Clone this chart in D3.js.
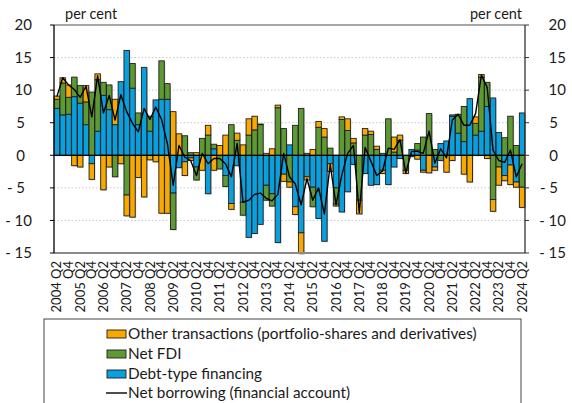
<!DOCTYPE html>
<html><head><meta charset="utf-8">
<script src="https://cdn.jsdelivr.net/npm/d3@7"></script>
<style>
body{margin:0;background:#fff}
svg{display:block}
text{font-family:Lato,"Open Sans",sans-serif;fill:#1a1a1a}
</style>
</head><body>
<svg id="chart" width="572" height="403"></svg>
<script>
const categories = ["2004 Q2","2004 Q3","2004 Q4","2005 Q1","2005 Q2","2005 Q3","2005 Q4","2006 Q1","2006 Q2","2006 Q3","2006 Q4","2007 Q1","2007 Q2","2007 Q3","2007 Q4","2008 Q1","2008 Q2","2008 Q3","2008 Q4","2009 Q1","2009 Q2","2009 Q3","2009 Q4","2010 Q1","2010 Q2","2010 Q3","2010 Q4","2011 Q1","2011 Q2","2011 Q3","2011 Q4","2012 Q1","2012 Q2","2012 Q3","2012 Q4","2013 Q1","2013 Q2","2013 Q3","2013 Q4","2014 Q1","2014 Q2","2014 Q3","2014 Q4","2015 Q1","2015 Q2","2015 Q3","2015 Q4","2016 Q1","2016 Q2","2016 Q3","2016 Q4","2017 Q1","2017 Q2","2017 Q3","2017 Q4","2018 Q1","2018 Q2","2018 Q3","2018 Q4","2019 Q1","2019 Q2","2019 Q3","2019 Q4","2020 Q1","2020 Q2","2020 Q3","2020 Q4","2021 Q1","2021 Q2","2021 Q3","2021 Q4","2022 Q1","2022 Q2","2022 Q3","2022 Q4","2023 Q1","2023 Q2","2023 Q3","2023 Q4","2024 Q1","2024 Q2"];

const debtFinancing = [7.2,6.2,6.3,9.0,8.0,4.7,-1.3,3.7,9.2,7.0, 4.7,11.3,16.1,10.3,4.7,13.5,3.7,8.5,8.6,8.6, -5.8,-1.9,-1.0,-0.4,-1.8,0.0,-5.9,1.0,0.0,-3.1, -7.4,-1.6,-7.2,-12.6,-12.0,-10.6,-4.6,-5.9,-13.4,-2.9, 1.6,-7.9,-11.9,-3.3,-4.9,-9.7,-13.2,-1.3,-5.0,-8.7, -5.6,-1.4,0.0,-2.8,-4.6,-4.5,-2.3,-4.5,-1.8,-0.5, 0.0,0.9,0.8,-2.3,0.0,-1.8,1.8,2.2,6.0,3.4, 2.1,8.7,3.1,3.7,7.5,8.8,3.5,-3.1,-1.5,-4.1,6.5];

const netFDI = [1.4,4.9,2.6,3.0,2.7,3.5,9.7,7.9,2.0,3.8, -3.3,0.0,-6.1,3.8,1.8,0.0,2.3,0.0,5.9,2.4, -5.6,0.0,3.0,0.4,-2.0,2.6,3.1,0.7,-2.1,-1.7, 4.7,2.3,-2.0,3.1,3.9,4.7,-2.3,-1.9,7.3,4.1, -4.1,4.6,7.2,0.3,-3.0,4.3,2.8,1.1,-2.5,5.5, 3.8,1.9,-6.9,3.1,3.2,0.9,0.3,5.6,0.5,2.3, -2.3,0.0,1.0,2.8,6.4,0.9,-0.8,0.0,0.2,2.9, 5.4,0.0,1.8,8.3,3.7,-6.8,-1.8,2.7,6.0,1.5,-4.9];

const otherTransactions = [0.5,0.8,1.9,-1.6,-1.8,2.5,-2.4,0.9,-5.3,-1.8, 3.9,-1.3,-3.2,-9.5,-3.4,-6.4,-0.7,-1.0,-8.9,-8.9, 6.7,3.3,-2.1,-0.4,0.4,-2.3,1.5,-2.3,1.5,3.1, -0.9,1.1,1.6,2.5,2.1,0.1,0.3,1.0,0.4,-1.1, -0.8,-1.2,-3.2,-0.5,0.9,0.9,1.3,-1.2,-0.3,0.4, 1.8,0.7,-2.1,1.0,0.5,0.5,-0.5,0.0,2.3,0.8, -0.5,-0.2,-0.6,-0.3,-2.7,-0.5,0.0,-2.6,-0.8,0.0, -2.9,-4.1,1.0,0.4,-0.5,-1.8,-2.8,-0.8,-3.0,-0.8,-3.1];

const netBorrowing = [9.0,11.9,10.8,10.1,8.9,10.6,5.9,12.2,6.5,9.2, 5.4,9.3,6.7,4.9,3.6,7.2,5.5,7.4,5.5,1.8, -4.6,1.5,-0.3,-0.8,-3.1,0.3,-1.3,-0.5,-0.5,-1.3, -3.3,1.8,-7.2,-6.9,-6.0,-5.8,-6.6,-7.0,-6.0,0.3, -3.3,-4.4,-7.6,-3.6,-6.9,-5.0,-9.0,-1.4,-7.6,-3.0, 0.3,1.5,-8.8,1.2,-0.9,-3.1,-2.4,1.1,0.9,2.4, -2.7,0.6,0.6,0.3,3.7,-1.2,1.0,-0.4,5.4,6.3, 4.6,4.6,6.4,12.3,10.4,0.8,-0.8,-1.1,0.8,-3.3,-1.3];

const yTicks = [-15,-10,-5,0,5,10,15,20];
const unitLabel = "per cent";
const legendLabels = ["Other transactions (portfolio-shares and derivatives)","Net FDI","Debt-type financing","Net borrowing (financial account)"];

const colors = {debt:"#0A9FDD", fdi:"#5E9A34", other:"#F8A900"};

const svg = d3.select("#chart");
const L = 54, R = 525, T = 25, B = 253;

const x = d3.scaleBand().domain(categories).range([L, R]).paddingInner(0.06).paddingOuter(0.03);
const y = d3.scaleLinear().domain([-15, 20]).range([B, T]);

const rows = categories.map((c, i) => ({cat: c, debt: debtFinancing[i], fdi: netFDI[i], other: otherTransactions[i]}));
const series = d3.stack().keys(["debt","fdi","other"]).offset(d3.stackOffsetDiverging)(rows);

svg.append("g").selectAll("line").data(yTicks.filter(v => v !== 0 && v !== 20 && v !== -15)).join("line")
  .attr("x1", L).attr("x2", R).attr("y1", d => y(d)).attr("y2", d => y(d))
  .attr("stroke", "#c8c8c8").attr("stroke-width", 1).attr("stroke-dasharray", "1.5,2");

const gShadow = svg.append("g");
const gBars = svg.append("g");
series.forEach(s => {
  gShadow.selectAll(null).data(s).join("rect")
    .attr("x", d => x(d.data.cat) + 1)
    .attr("y", d => Math.min(y(d[0]), y(d[1])) + 1)
    .attr("width", x.bandwidth())
    .attr("height", d => Math.abs(y(d[0]) - y(d[1])))
    .attr("fill", "#999").attr("opacity", 0.45);
});
series.forEach(s => {
  gBars.selectAll(null).data(s).join("rect")
    .attr("x", d => x(d.data.cat))
    .attr("y", d => Math.min(y(d[0]), y(d[1])))
    .attr("width", x.bandwidth())
    .attr("height", d => Math.abs(y(d[0]) - y(d[1])))
    .attr("fill", colors[s.key])
    .attr("stroke", "#1e1e1e").attr("stroke-width", 0.9);
});

svg.append("line").attr("x1", L).attr("x2", R).attr("y1", y(0)).attr("y2", y(0))
  .attr("stroke", "#000").attr("stroke-width", 1.2);

const line = d3.line().x((d, i) => x(categories[i]) + x.bandwidth() / 2).y(d => y(d));
svg.append("path").datum(netBorrowing).attr("d", line)
  .attr("fill", "none").attr("stroke", "#000").attr("stroke-width", 1.4).attr("stroke-linejoin", "round");

svg.append("line").attr("x1", L).attr("x2", R).attr("y1", T).attr("y2", T).attr("stroke", "#8a8a8a").attr("stroke-width", 1.5);
svg.append("line").attr("x1", L).attr("x2", R).attr("y1", B).attr("y2", B).attr("stroke", "#8a8a8a").attr("stroke-width", 2);
svg.append("line").attr("x1", L).attr("x2", L).attr("y1", T).attr("y2", B).attr("stroke", "#000").attr("stroke-width", 1.3);
svg.append("line").attr("x1", R).attr("x2", R).attr("y1", T).attr("y2", B).attr("stroke", "#333").attr("stroke-width", 1.3);

const fmt = v => v < 0 ? "- " + Math.abs(v) : String(v);
yTicks.forEach(v => {
  const yy = y(v);
  svg.append("line").attr("x1", L - 4).attr("x2", L).attr("y1", yy).attr("y2", yy).attr("stroke", "#000");
  svg.append("line").attr("x1", R).attr("x2", R + 4).attr("y1", yy).attr("y2", yy).attr("stroke", "#333");
  const digits = String(Math.abs(v)).length;
  svg.append("text").attr("x", digits === 1 ? 25 : 32).attr("y", yy).attr("dy", "0.35em")
    .attr("text-anchor", "end").attr("font-size", 15).text(fmt(v));
  svg.append("text").attr("x", digits === 1 ? 558 : 566).attr("y", yy).attr("dy", "0.35em")
    .attr("text-anchor", "end").attr("font-size", 15).text(fmt(v));
});

svg.append("text").attr("x", 65).attr("y", 19).attr("font-size", 14.5).text(unitLabel);
svg.append("text").attr("x", 522).attr("y", 19).attr("text-anchor", "end").attr("font-size", 14.5).text(unitLabel);

categories.forEach((c, i) => {
  if (i % 2 !== 0) return;
  const lab = c.endsWith("Q2") ? c : "Q4";
  const cx = x(c) + x.bandwidth() / 2;
  svg.append("text").attr("transform", `translate(${cx},261) rotate(-90)`)
    .attr("text-anchor", "end").attr("dy", "0.35em").attr("font-size", 13).text(lab);
});

svg.append("rect").attr("x", 44).attr("y", 319).attr("width", 477).attr("height", 100)
  .attr("fill", "#fff").attr("stroke", "#444").attr("stroke-width", 1);
const legendY = [334, 354, 374, 393];
const swatchColors = [colors.other, colors.fdi, colors.debt];
swatchColors.forEach((col, i) => {
  svg.append("rect").attr("x", 107).attr("y", legendY[i] - 4).attr("width", 19).attr("height", 8)
    .attr("fill", col).attr("stroke", "#1e1e1e").attr("stroke-width", 0.9);
});
svg.append("line").attr("x1", 106).attr("x2", 127).attr("y1", legendY[3]).attr("y2", legendY[3])
  .attr("stroke", "#000").attr("stroke-width", 1.4);
legendLabels.forEach((t, i) => {
  svg.append("text").attr("x", 128).attr("y", legendY[i]).attr("dy", "0.35em").attr("font-size", 15.3).text(t);
});
</script>
</body></html>
